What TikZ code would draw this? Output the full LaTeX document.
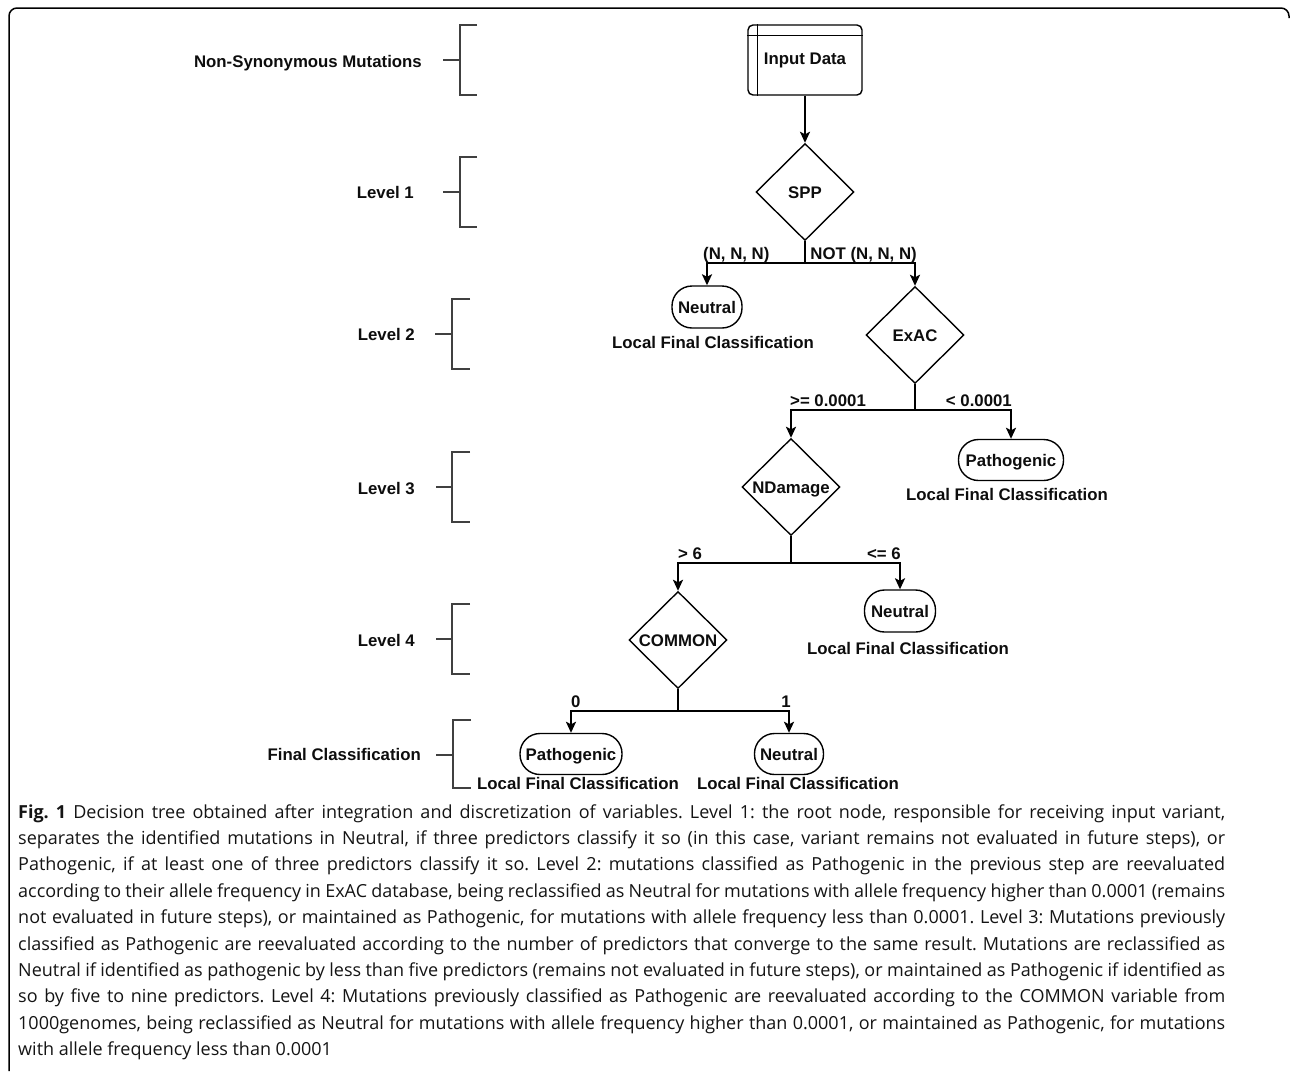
\documentclass[tikz,border=0pt]{standalone}
\usepackage{fontspec}
\setmainfont{Liberation Sans}
\newfontfamily\capfont{Open Sans}
\usetikzlibrary{arrows.meta,shapes.geometric,calc}
\newcommand{\capline}[1]{\makebox[1207pt][s]{#1}}
\frenchspacing
\begin{document}
\begin{tikzpicture}[x=1pt,y=-1pt,
  lbl/.style={font=\bfseries\fontsize{16.8}{19}\selectfont, inner sep=0pt, text=black!95},
  dia/.style={draw, diamond, line width=1.4pt, inner sep=0pt, minimum width=98pt, minimum height=97pt, lbl, text height=12pt, text depth=0pt},
  term/.style={draw, rectangle, rounded corners=20pt, line width=1.4pt, minimum height=42pt, lbl, text height=12pt, text depth=0pt},
  conn/.style={line width=2pt},
  arr/.style={conn, -{Stealth[length=11pt,width=10pt,inset=2.5pt]}},
  brk/.style={line width=1.6pt, draw=black!75},
  captxt/.style={font=\capfont\fontsize{18}{22}\selectfont\frenchspacing, inner sep=0pt, anchor=base west, text=black!92},
]
\useasboundingbox (0,0) rectangle (1290,1071);
% frame
\draw[line width=1.5pt, rounded corners=8pt] (9,1071) -- (9,8) -- (1289,8) -- (1289,18);

% brackets and level labels
\node[lbl, anchor=base east] (lns) at (422,67) {Non-Synonymous Mutations};
\draw[brk] (477,25) -- (460,25) -- (460,95) -- (477,95); \draw[brk] (443,60) -- (460,60);
\node[lbl, anchor=base east] (lv1) at (414,198) {Level 1};
\draw[brk] (477,157) -- (460,157) -- (460,227) -- (477,227); \draw[brk] (443,192) -- (460,192);
\node[lbl, anchor=base east] (lv2) at (415,340) {Level 2};
\draw[brk] (470,299) -- (452,299) -- (452,369) -- (470,369); \draw[brk] (435,334) -- (452,334);
\node[lbl, anchor=base east] (lv3) at (415,494) {Level 3};
\draw[brk] (470,452) -- (452,452) -- (452,522) -- (470,522); \draw[brk] (436,487) -- (452,487);
\node[lbl, anchor=base east] (lv4) at (415,646) {Level 4};
\draw[brk] (470,604) -- (452,604) -- (452,674) -- (470,674); \draw[brk] (436,639) -- (452,639);
\node[lbl, anchor=base east] (lvf) at (421,760) {Final Classification};
\draw[brk] (471,720) -- (453,720) -- (453,788) -- (471,788); \draw[brk] (436,755) -- (453,755);

% nodes
\node[draw, rectangle, rounded corners=5pt, line width=1.4pt, minimum width=114pt, minimum height=70pt, lbl] (inp) at (805,60) {Input Data};
\draw[line width=1.4pt] ($(inp.north west)+(10,0)$) -- ($(inp.south west)+(10,0)$);
\draw[line width=1.4pt] ($(inp.north west)+(0,11)$) -- ($(inp.north east)+(0,11)$);

\node[dia] (spp) at (805,192) {SPP};
\node[term, minimum width=70pt] (neu1) at (707,307) {Neutral};
\node[dia] (exac) at (915,335) {ExAC};
\node[dia] (ndam) at (791,487) {NDamage};
\node[term, minimum width=105pt, minimum height=41pt] (path1) at (1011,460) {Pathogenic};
\node[dia] (common) at (678,640) {COMMON};
\node[term, minimum width=71pt] (neu2) at (900,611) {Neutral};
\node[term, minimum width=102pt, minimum height=41pt] (path2) at (571,754) {Pathogenic};
\node[term, minimum width=69pt, minimum height=41pt] (neu3) at (789,754) {Neutral};

\node[lbl, anchor=base] (lf1) at (713,348) {Local Final Classification};
\node[lbl, anchor=base] (lf2) at (1007,500) {Local Final Classification};
\node[lbl, anchor=base] (lf3) at (908,654) {Local Final Classification};
\node[lbl, anchor=base] (lf4) at (578,789) {Local Final Classification};
\node[lbl, anchor=base] (lf5) at (798,789) {Local Final Classification};

% connectors
\coordinate (b1) at (805,263);
\coordinate (b2) at (915,410);
\coordinate (b3) at (791,563);
\coordinate (b4) at (678,711);
\draw[arr] (inp.south) -- (spp.north);
\draw[conn] (spp.south) -- (b1);
\draw[arr] (b1) -| (neu1.north);
\draw[arr] (b1) -| (exac.north);
\draw[conn] (exac.south) -- (b2);
\draw[arr] (b2) -| (ndam.north);
\draw[arr] (b2) -| (path1.north);
\draw[conn] (ndam.south) -- (b3);
\draw[arr] (b3) -| (common.north);
\draw[arr] (b3) -| (neu2.north);
\draw[conn] (common.south) -- (b4);
\draw[arr] (b4) -| (path2.north);
\draw[arr] (b4) -| (neu3.north);

% branch labels
\node[lbl, anchor=base west] (e1) at (703,259) {(N, N, N)};
\node[lbl, anchor=base east] (e2) at (917,259) {NOT (N, N, N)};
\node[lbl, anchor=base west] (e3) at (790,406) {>= 0.0001};
\node[lbl, anchor=base east] (e4) at (1012,406) {< 0.0001};
\node[lbl, anchor=base west] (e5) at (678,559) {> 6};
\node[lbl, anchor=base east] (e6) at (901,559) {<= 6};
\node[lbl, anchor=base west] (e7) at (571,707) {0};
\node[lbl, anchor=base east] (e8) at (791,707) {1};

% caption
\node[captxt] (c1) at (18,818) {\capline{\textbf{Fig. 1} Decision tree obtained after integration and discretization of variables. Level 1: the root node, responsible for receiving input variant,}};
\node[captxt] (c2) at (18,844.4) {\capline{separates the identified mutations in Neutral, if three predictors classify it so (in this case, variant remains not evaluated in future steps), or}};
\node[captxt] (c3) at (18,870.8) {\capline{Pathogenic, if at least one of three predictors classify it so. Level 2: mutations classified as Pathogenic in the previous step are reevaluated}};
\node[captxt] (c4) at (18,897.2) {\capline{according to their allele frequency in ExAC database, being reclassified as Neutral for mutations with allele frequency higher than 0.0001 (remains}};
\node[captxt] (c5) at (18,923.6) {\capline{not evaluated in future steps), or maintained as Pathogenic, for mutations with allele frequency less than 0.0001. Level 3: Mutations previously}};
\node[captxt] (c6) at (18,950) {\capline{classified as Pathogenic are reevaluated according to the number of predictors that converge to the same result. Mutations are reclassified as}};
\node[captxt] (c7) at (18,976.4) {\capline{Neutral if identified as pathogenic by less than five predictors (remains not evaluated in future steps), or maintained as Pathogenic if identified as}};
\node[captxt] (c8) at (18,1002.8) {\capline{so by five to nine predictors. Level 4: Mutations previously classified as Pathogenic are reevaluated according to the COMMON variable from}};
\node[captxt] (c9) at (18,1029.2) {\capline{1000genomes, being reclassified as Neutral for mutations with allele frequency higher than 0.0001, or maintained as Pathogenic, for mutations}};
\node[captxt] (c10) at (18,1055.6) {with allele frequency less than 0.0001};
\end{tikzpicture}
\end{document}
